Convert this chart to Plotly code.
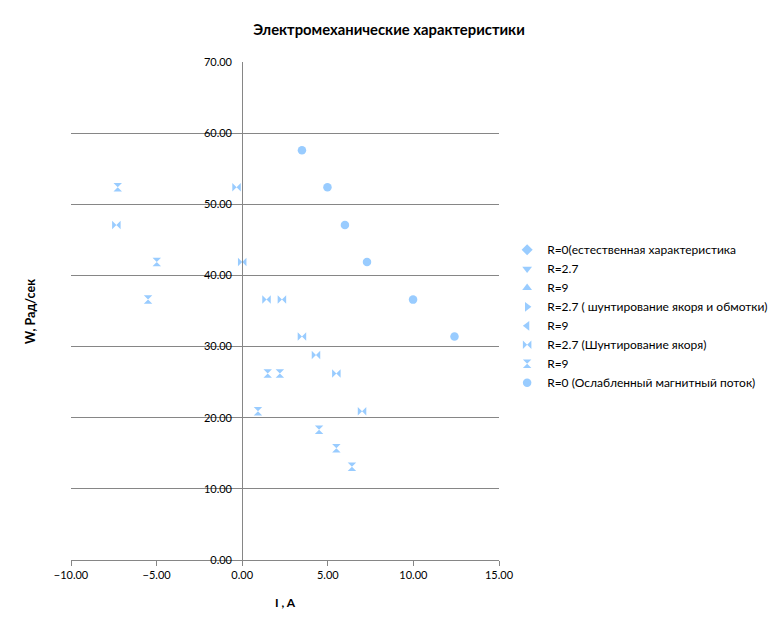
import plotly.graph_objects as go

# Series data (I, A ; W, Рад/сек)
names = [
    "R=0(естественная характеристика",
    "R=2.7",
    "R=9",
    "R=2.7 ( шунтирование якоря и обмотки)",
    "R=9",
    "R=2.7 (Шунтирование якоря)",
    "R=9",
    "R=0 (Ослабленный магнитный поток)",
]
symbols = ["diamond", "triangle-down", "triangle-up", "triangle-right",
           "triangle-left", "bowtie", "hourglass", "circle"]

# series without visible points in the chart (legend only)
s1_i, s1_w = [None], [None]
s2_i, s2_w = [None], [None]
s3_i, s3_w = [None], [None]
s4_i, s4_w = [None], [None]
s5_i, s5_w = [None], [None]
s6_i = [-0.33, -7.35, 0.0, 1.42, 2.32, 3.49, 4.31, 5.5, 7.0]
s6_w = [52.4, 47.1, 41.9, 36.6, 36.6, 31.4, 28.8, 26.2, 20.9]
s7_i = [-7.27, -4.99, -5.5, 1.49, 2.2, 0.92, 4.49, 5.5, 6.41]
s7_w = [52.4, 41.9, 36.6, 26.2, 26.2, 20.9, 18.3, 15.7, 13.1]
s8_i = [3.49, 4.98, 6.0, 7.29, 9.98, 12.4]
s8_w = [57.6, 52.4, 47.1, 41.9, 36.6, 31.4]

series_i = [s1_i, s2_i, s3_i, s4_i, s5_i, s6_i, s7_i, s8_i]
series_w = [s1_w, s2_w, s3_w, s4_w, s5_w, s6_w, s7_w, s8_w]

color = "#99CCFF"
font = "Lato, Carlito, sans-serif"

fig = go.Figure()
for n, sym, xi, yi in zip(names, symbols, series_i, series_w):
    fig.add_trace(go.Scatter(
        x=xi, y=yi, mode="markers", name=n, showlegend=True,
        marker=dict(symbol=sym, size=8.5, color=color, line=dict(width=0)),
    ))

x_min, x_max = -10, 15
pos = (0 - x_min) / (x_max - x_min)

fig.update_layout(
    width=778, height=632,
    margin=dict(l=63, r=287, t=54, b=80),
    paper_bgcolor="white", plot_bgcolor="white",
    font=dict(family=font, size=11, color="#000000"),
    title=dict(text="<b>Электромеханические характеристики</b>",
               x=0.4897, xanchor="center", y=0.965, yanchor="middle",
               font=dict(size=14.8, family=font)),
    showlegend=True,
    legend=dict(x=1.019, y=0.652, xanchor="left", yanchor="top",
                font=dict(size=12, family=font),
                tracegroupgap=0, bgcolor="rgba(0,0,0,0)"),
    xaxis=dict(range=[x_min, x_max], dtick=5, tick0=0, tickformat=".2f",
               showgrid=False, zeroline=False, showline=True,
               linecolor="#868686", linewidth=1,
               ticks="outside", ticklen=5, tickcolor="#868686",
               title=dict(text="<b>I , A</b>", font=dict(size=12), standoff=18)),
    yaxis=dict(range=[0, 70], dtick=10, tickformat=".2f",
               anchor="free", position=pos,
               showgrid=True, gridcolor="#868686", gridwidth=1,
               zeroline=False, showline=True, linecolor="#868686", linewidth=1,
               ticks="", ticklabelstandoff=8),
    annotations=[dict(text="<b>W, Рад/сек</b>", xref="paper", yref="paper",
                      x=-0.096, y=0.5, xanchor="center", yanchor="middle",
                      textangle=-90, showarrow=False,
                      font=dict(size=12.5, family=font))],
)

fig.write_html("out.html")
